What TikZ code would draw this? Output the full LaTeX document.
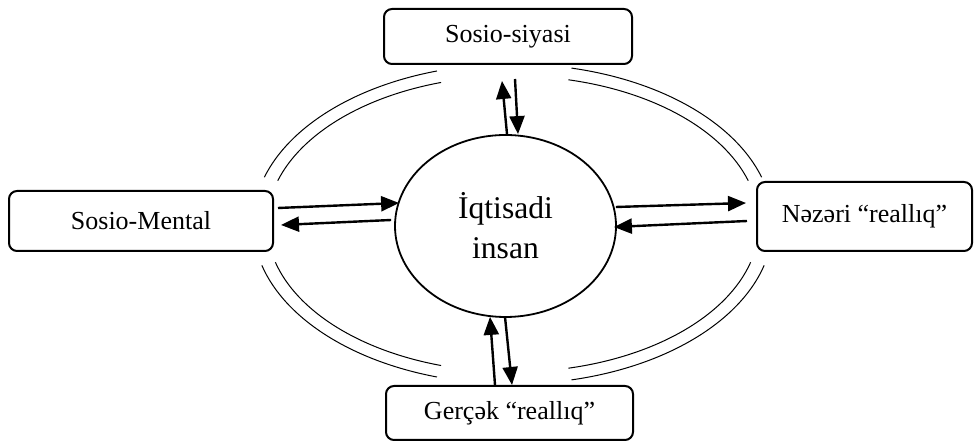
\documentclass[tikz,border=0pt]{standalone}
\usepackage{fontspec}
\setmainfont{Liberation Serif}
\usetikzlibrary{shapes.geometric}
\usetikzlibrary{arrows.meta}

\begin{document}
\begin{tikzpicture}[
    x=0.5pt, y=0.5pt,
    box/.style = {
        draw, rounded corners=4pt, line width=1pt, inner sep=0pt,
        font=\fontsize{13}{15.6}\selectfont
    },
    core/.style = {
        draw, ellipse, line width=0.9pt, inner sep=0pt, align=center,
        minimum width=110.5pt, minimum height=91pt,
        font=\fontsize{15.8}{20}\selectfont
    },
    link/.style = {-{Triangle[length=9pt, width=7.5pt]}, line width=1.2pt},
    rim/.style = {line width=0.5pt}
]
\useasboundingbox (0,0) rectangle (974,443);

% boxes round the centre
\node[box, minimum width=124pt, minimum height=27.5pt] (ss) at (508, 406.5) {Sosio-siyasi};
\node[box, minimum width=132pt, minimum height=30pt] (sm) at (141, 222) {Sosio-Mental};
\node[box, minimum width=107.5pt, minimum height=34.5pt] (nr) at (864.5, 226.5) {Nəzəri “reallıq”};
\node[box, minimum width=123.5pt, minimum height=27pt] (gr) at (509.5, 30) {Gerçək “reallıq”};

\node[core] (ie) at (505.5, 217) {İqtisadi\\insan};

% double rim
\coordinate (c) at (513, 219);
\foreach \a/\b in {17/77, 107/163, 195/253, 283/345} {
    \draw[rim] ([shift={(\a:130pt and 80pt)}]c) arc[start angle=\a, end angle=\b, x radius=130pt, y radius=80pt];
    \draw[rim] ([shift={(\a:123pt and 74pt)}]c) arc[start angle=\a, end angle=\b, x radius=123pt, y radius=74pt];
}

% arrows
\draw[link] ([shift={(4,13)}]sm.east) -- ([shift={(5,23)}]ie.west);
\draw[link] ([shift={(-3,6)}]ie.west) -- ([shift={(7,-4)}]sm.east);

\draw[link] ([shift={(-1,19)}]ie.east) -- ([shift={(-10,13.5)}]nr.west);
\draw[link] ([shift={(-9,-4.5)}]nr.west) -- ([shift={(-3,-1)}]ie.east);

\draw[link] ([shift={(1.5,0)}]ie.north) -- ([shift={(-6,-16)}]ss.south);
\draw[link] ([shift={(7,-14)}]ss.south) -- ([shift={(12.5,0)}]ie.north);

\draw[link] ([shift={(-14.5,0)}]gr.north) -- ([shift={(-15.5,1)}]ie.south);
\draw[link] ([shift={(-0.5,1)}]ie.south) -- ([shift={(2.5,0)}]gr.north);
\end{tikzpicture}
\end{document}
